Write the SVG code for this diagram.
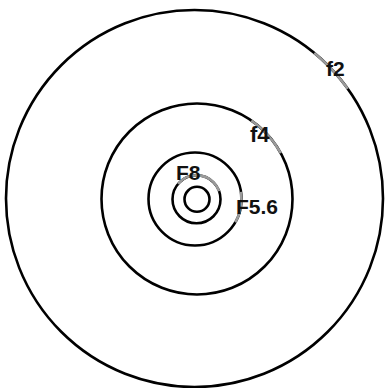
<svg xmlns="http://www.w3.org/2000/svg" width="386" height="388" viewBox="0 0 386 388">
  <style>
    .ring { fill: none; stroke: #000; stroke-width: 2.6; }
    .hl { fill: none; stroke: #9a9a9a; stroke-width: 2.6; }
    .lbl { font-family: "Liberation Sans", Arial, sans-serif; font-weight: bold; font-size: 21px; fill: #111; }
  </style>
  <rect width="386" height="388" fill="#fff"/>
  <g id="ring-f2">
    <circle class="ring" cx="194.5" cy="198.5" r="188.5"/>
    <path class="hl" d="M314.3,52.9 A188.5,188.5 0 0 1 347.8,88.8"/>
    <text class="lbl" x="326" y="76">f2</text>
  </g>
  <g id="ring-f4">
    <circle class="ring" cx="197" cy="199" r="95.5"/>
    <path class="hl" d="M251.4,120.5 A95.5,95.5 0 0 1 280.8,153.2"/>
    <text class="lbl" x="250" y="142" style="font-size:22px">f4</text>
  </g>
  <g id="ring-f56">
    <circle class="ring" cx="195" cy="199" r="46.5"/>
    <path class="hl" d="M240.8,191.9 A46.5,46.5 0 0 1 235.4,222.3"/>
    <text class="lbl" x="236" y="214">F5.6</text>
  </g>
  <g id="ring-f8">
    <circle class="ring" cx="196.5" cy="199.3" r="24"/>
    <path class="hl" d="M178.1,183.9 A24,24 0 0 1 219.1,191.1"/>
    <text class="lbl" x="176" y="180">F8</text>
  </g>
  <g id="ring-inner">
    <circle class="ring" cx="197" cy="199.3" r="12.5"/>
  </g>
</svg>
